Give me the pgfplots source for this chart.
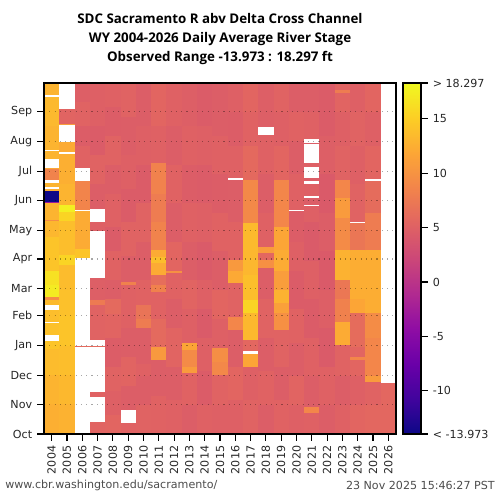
\documentclass[border=0pt]{standalone}
\usepackage{fontspec}
\setmainfont{DejaVu Sans}
\newfontfamily\titlefont{Open Sans}
\usepackage{pgfplots}
\pgfplotsset{compat=1.18}

\pgfplotsset{
  colormap={plasma}{rgb255=(13,8,135) rgb255=(65,4,157) rgb255=(106,0,168)
    rgb255=(143,13,164) rgb255=(177,42,144) rgb255=(204,71,120) rgb255=(225,100,98)
    rgb255=(242,132,75) rgb255=(252,166,54) rgb255=(252,206,37) rgb255=(240,249,33)},
  stage/.style={mesh, shader=flat, line width=11.02pt, line cap=butt,
    point meta=explicit, unbounded coords=jump, forget plot},
}
\newcommand{\tickfont}{\fontsize{8}{9.6}\selectfont}

\begin{document}
\begin{tikzpicture}
\begin{axis}[
  name=main, at={(0,0)}, anchor=south west,
  scale only axis, width=253.44pt, height=252.72pt,
  xmin=2003.5, xmax=2026.5, ymin=0, ymax=365,
  axis on top,
  axis line style={line width=0.8pt, black},
  xtick={2004,...,2026},
  xticklabels={2004,2005,2006,2007,2008,2009,2010,2011,2012,2013,2014,2015,
    2016,2017,2018,2019,2020,2021,2022,2023,2024,2025,2026},
  xticklabel style={rotate=90, anchor=east},
  ytick={0,31,61,92,123,151,182,212,243,273,304,335},
  yticklabels={Oct,Nov,Dec,Jan,Feb,Mar,Apr,May,Jun,Jul,Aug,Sep},
  xtick pos=left, ytick pos=left,
  tick align=outside, major tick length=5pt,
  tick style={line width=0.8pt, black},
  tick label style={font=\tickfont, text=black!85},
  ymajorgrids,
  major grid style={black, opacity=0.35, line width=0.8pt, dash pattern=on 0.8pt off 3pt},
  colormap name=plasma, point meta min=-13.973, point meta max=18.297,
  colorbar,
  colorbar style={
    at={(parent axis.north east)}, anchor=north west, xshift=-3.5pt,
    scale only axis, width=12.96pt, height=252.72pt,
    ytick={-13.973,-10,-5,0,5,10,15,18.297},
    yticklabels={< -13.973,-10,-5,0,5,10,15,> 18.297},
    ytick pos=right, yticklabel pos=right,
    tick align=outside, major tick length=5pt,
    axis line style={line width=0.8pt, black},
    tick style={line width=0.8pt, black},
    tick label style={font=\tickfont, text=black!85},
  },
]
% 2004
\addplot[stage] table[x expr=2004, y index=0, meta index=1] {
0 12.6
31 12.6
31 13.0
61 13.0
61 13.6
88 13.6
88 14.3
96.7 14.3
nan 0
103 14.0
115.5 14.0
nan 0
116.5 13.8
129 13.8
nan 0
134 13.5
139 13.5
139 9.5
142 9.5
142 17.3
155 17.3
155 16.5
170 16.5
170 14.3
205 14.3
205 13.2
222 13.2
222 9.5
223 9.5
223 13.0
240.3 13.0
240.3 -3
241.3 -3
241.3 -13.9
252.7 -13.9
252.7 12.5
254.8 12.5
nan 0
256.8 13.0
261 13.0
nan 0
264 8.5
275.6 8.5
275.6 12
276.6 12
nan 0
286 13.0
294.8 13.0
nan 0
295.8 13.0
320 13.0
320 13.4
350.5 13.4
nan 0
352.5 13.0
365 13.0
};
% 2005
\addplot[stage] table[x expr=2005, y index=0, meta index=1] {
0 12.8
31 12.8
31 13.3
61 13.3
61 13.8
92 13.8
92 14.3
123 14.3
123 14.0
150 14.0
150 13.6
176 13.6
176 15.5
186 15.5
186 13.8
222 13.8
222 15.5
231 15.5
231 17.6
238 17.6
238 13.0
260 13.0
260 12.6
291 12.6
nan 0
293 12.3
303.6 12.3
nan 0
321.3 11
322.3 11
322.3 5.4
338 5.4
};
% 2006
\addplot[stage] table[x expr=2006, y index=0, meta index=1] {
90.5 6.0
91.5 6.0
nan 0
183 14.3
192 14.3
192 12.3
232 12.3
nan 0
233 8.6
263 8.6
nan 0
276.6 5.2
300 5.2
300 4.6
320 4.6
320 5.3
345 5.3
345 4.8
365 4.8
};
% 2007
\addplot[stage] table[x expr=2007, y index=0, meta index=1] {
0 5.4
12.5 5.4
nan 0
38.5 5.2
43.7 5.2
nan 0
90.5 6.0
91.5 6.0
nan 0
98 5.3
134 5.3
134 7.6
139 7.6
139 4.8
162 4.8
nan 0
211 5.0
220.5 5.0
nan 0
234 4.7
260 4.7
260 5.3
290 5.3
290 4.5
320 4.5
320 5.0
365 5.0
};
% 2008
\addplot[stage] table[x expr=2008, y index=0, meta index=1] {
0 5.5
20 5.5
20 4.9
45 4.9
45 5.3
70 5.3
70 4.6
100 4.6
100 5.4
125 5.4
125 6.0
140 6.0
140 4.7
160 4.7
160 5.2
190 5.2
190 4.5
215 4.5
215 5.1
250 5.1
250 4.7
280 4.7
280 5.3
310 5.3
310 4.6
340 4.6
340 5.1
365 5.1
};
% 2009
\addplot[stage] table[x expr=2009, y index=0, meta index=1] {
0 5.2
11.4 5.2
nan 0
25 4.7
50 4.7
50 5.4
80 5.4
80 4.7
110 4.7
110 5.1
155 5.1
155 8.3
158 8.3
158 4.7
185 4.7
185 5.3
220 5.3
220 4.5
255 4.5
255 5.0
290 5.0
290 4.7
330 4.7
330 5.3
365 5.3
};
% 2010
\addplot[stage] table[x expr=2010, y index=0, meta index=1] {
0 5.3
30 5.3
30 4.7
60 4.7
60 5.1
72.3 5.1
nan 0
73.3 4.7
110 4.7
110 7.8
120 7.8
120 7.0
134 7.0
134 5.2
160 5.2
160 4.7
200 4.7
200 5.3
240 5.3
240 4.5
280 4.5
280 5.0
320 5.0
320 4.7
365 4.7
};
% 2011
\addplot[stage] table[x expr=2011, y index=0, meta index=1] {
0 5.2
40 5.2
40 4.7
77 4.7
77 10.6
90 10.6
90 6.0
120 6.0
120 5.2
148 5.2
148 8.3
155 8.3
155 6.4
165 6.4
165 12.3
178 12.3
178 13.8
184 13.8
184 12.3
191 12.3
191 8.5
220 8.5
220 7.8
250 7.8
250 8.4
282 8.4
282 5.1
320 5.1
320 5.5
365 5.5
};
% 2012
\addplot[stage] table[x expr=2012, y index=0, meta index=1] {
0 5.1
35 5.1
35 4.7
70 4.7
70 5.4
110 5.4
110 4.7
140 4.7
140 5.2
167 5.2
167 9.8
170 9.8
170 5.5
200 5.5
200 4.7
240 4.7
240 5.2
280 5.2
280 4.7
320 4.7
320 5.1
365 5.1
};
% 2013
\addplot[stage] table[x expr=2013, y index=0, meta index=1] {
0 4.7
30 4.7
30 5.2
63 5.2
63 10.8
70 10.8
70 9.3
87 9.3
87 11.8
95 11.8
95 4.9
130 4.9
130 5.4
160 5.4
160 4.7
200 4.7
200 5.1
240 5.1
240 4.6
280 4.6
280 5.1
320 5.1
320 4.8
365 4.8
};
% 2014
\addplot[stage] table[x expr=2014, y index=0, meta index=1] {
0 5.1
30 5.1
30 4.5
65 4.5
65 5.0
100 5.0
100 4.4
130 4.4
130 4.9
160 4.9
160 4.4
200 4.4
200 5.0
240 5.0
240 4.5
280 4.5
280 4.9
320 4.9
320 4.5
365 4.5
};
% 2015
\addplot[stage] table[x expr=2015, y index=0, meta index=1] {
0 4.9
30 4.9
30 5.3
61 5.3
61 9.0
75 9.0
75 9.6
89 9.6
89 5.0
120 5.0
120 5.5
150 5.5
150 4.7
190 4.7
190 5.2
230 5.2
230 4.6
270 4.6
270 5.1
310 5.1
310 4.7
365 4.7
};
% 2016
\addplot[stage] table[x expr=2016, y index=0, meta index=1] {
0 5.0
35 5.0
35 5.5
70 5.5
70 4.7
108 4.7
108 8.8
122 8.8
122 5.3
157 5.3
157 12.1
170 12.1
170 10.6
181 10.6
181 5.2
220 5.2
220 4.7
264 4.7
nan 0
266 5.1
300 5.1
300 4.6
335 4.6
335 5.0
365 5.0
};
% 2017
\addplot[stage] table[x expr=2017, y index=0, meta index=1] {
0 5.3
35 5.3
35 4.9
70 4.9
70 11.8
83 11.8
nan 0
86 5.7
98 5.7
98 13.3
126 13.3
126 15.5
139 15.5
139 13.8
165 13.8
165 13.2
191 13.2
191 13.5
219 13.5
219 9.1
264 9.1
264 5.9
300 5.9
300 5.2
335 5.2
335 5.5
365 5.5
};
% 2018
\addplot[stage] table[x expr=2018, y index=0, meta index=1] {
0 4.7
30 4.7
30 5.2
65 5.2
65 4.7
100 4.7
100 5.3
140 5.3
140 4.7
173 4.7
173 9.8
181 9.8
181 5.7
188 5.7
188 10.8
194 10.8
194 5.1
230 5.1
230 4.7
270 4.7
270 5.1
311 5.1
nan 0
319 4.8
365 4.8
};
% 2019
\addplot[stage] table[x expr=2019, y index=0, meta index=1] {
0 5.2
35 5.2
35 4.7
70 4.7
70 5.3
108 5.3
108 9.8
126 9.8
126 11.3
136 11.3
136 12.8
150 12.8
150 11.0
170 11.0
170 12.3
191 12.3
191 11.8
215 11.8
215 8.8
264 8.8
264 5.5
300 5.5
300 4.9
335 4.9
335 5.3
365 5.3
};
% 2020
\addplot[stage] table[x expr=2020, y index=0, meta index=1] {
0 4.9
30 4.9
30 5.4
60 5.4
60 4.7
95 4.7
95 5.2
130 5.2
130 4.5
170 4.5
170 5.0
200 5.0
200 4.6
232 4.6
nan 0
233 5.1
270 5.1
270 4.7
305 4.7
305 5.2
335 5.2
335 4.7
365 4.7
};
% 2021
\addplot[stage] table[x expr=2021, y index=0, meta index=1] {
0 5.1
22 5.1
22 8.8
28 8.8
28 4.7
60 4.7
60 5.1
100 5.1
100 4.5
140 4.5
140 4.9
180 4.9
180 4.4
220 4.4
220 4.9
237 4.9
nan 0
238 4.7
245 4.7
nan 0
247.5 5.0
260 5.0
nan 0
263 4.7
266 4.7
nan 0
277.7 4.9
282 4.9
nan 0
301.6 4.7
302.6 4.7
nan 0
306.8 5.1
335 5.1
335 4.7
365 4.7
};
% 2022
\addplot[stage] table[x expr=2022, y index=0, meta index=1] {
0 4.7
30 4.7
30 5.1
70 5.1
70 4.4
110 4.4
110 4.8
150 4.8
150 4.3
190 4.3
190 4.7
230 4.7
230 4.3
270 4.3
270 4.8
310 4.8
310 4.5
365 4.5
};
% 2023
\addplot[stage] table[x expr=2023, y index=0, meta index=1] {
0 5.1
30 5.1
30 4.7
60 4.7
60 5.3
92.5 5.3
92.5 12.3
116.5 12.3
116.5 8.3
140 8.3
140 7.3
160 7.3
160 12.8
191 12.8
191 9.3
225 9.3
225 10.8
245 10.8
245 8.8
264 8.8
264 5.3
300 5.3
300 4.9
335 4.9
335 5.4
355 5.4
355 7.8
358 7.8
358 5.4
365 5.4
};
% 2024
\addplot[stage] table[x expr=2024, y index=0, meta index=1] {
0 5.5
30 5.5
30 4.9
60 4.9
60 5.5
77 5.5
77 8.8
80 8.8
80 5.5
90 5.5
90 6.2
126 6.2
126 11.8
140 11.8
140 12.4
191 12.4
191 7.2
219 7.2
nan 0
220 5.3
260 5.3
260 4.9
300 4.9
300 5.3
335 5.3
335 4.9
365 4.9
};
% 2025
\addplot[stage] table[x expr=2025, y index=0, meta index=1] {
0 5.7
30 5.7
30 5.3
54 5.3
54 10.8
60 10.8
60 8.8
100 8.8
100 9.4
126 9.4
126 12.4
191 12.4
191 7.8
230 7.8
230 6.2
263 6.2
nan 0
265 5.5
300 5.5
300 5.0
335 5.0
335 5.5
365 5.5
};
% 2026
\addplot[stage] table[x expr=2026, y index=0, meta index=1] {
0 5.7
53 5.7
};
\end{axis}
\node[font=\titlefont\bfseries\fontsize{9.6}{13.7}\selectfont, align=center]
  at (126.72pt,284.4pt) {SDC Sacramento R abv Delta Cross Channel\\
  WY 2004-2026 Daily Average River Stage\\
  Observed Range -13.973 : 18.297 ft};
\node[anchor=west, font=\tickfont, text=black!70, inner sep=0pt]
  at (-28.1pt,-36.7pt) {www.cbr.washington.edu/sacramento/};
\node[anchor=east, font=\tickfont, text=black!70, inner sep=0pt]
  at (324.7pt,-36.7pt) {23 Nov 2025 15:46:27 PST};
\pgfresetboundingbox
\path[use as bounding box] (-31.68pt,-47.52pt) rectangle (328.32pt,312.48pt);
\end{tikzpicture}
\end{document}
